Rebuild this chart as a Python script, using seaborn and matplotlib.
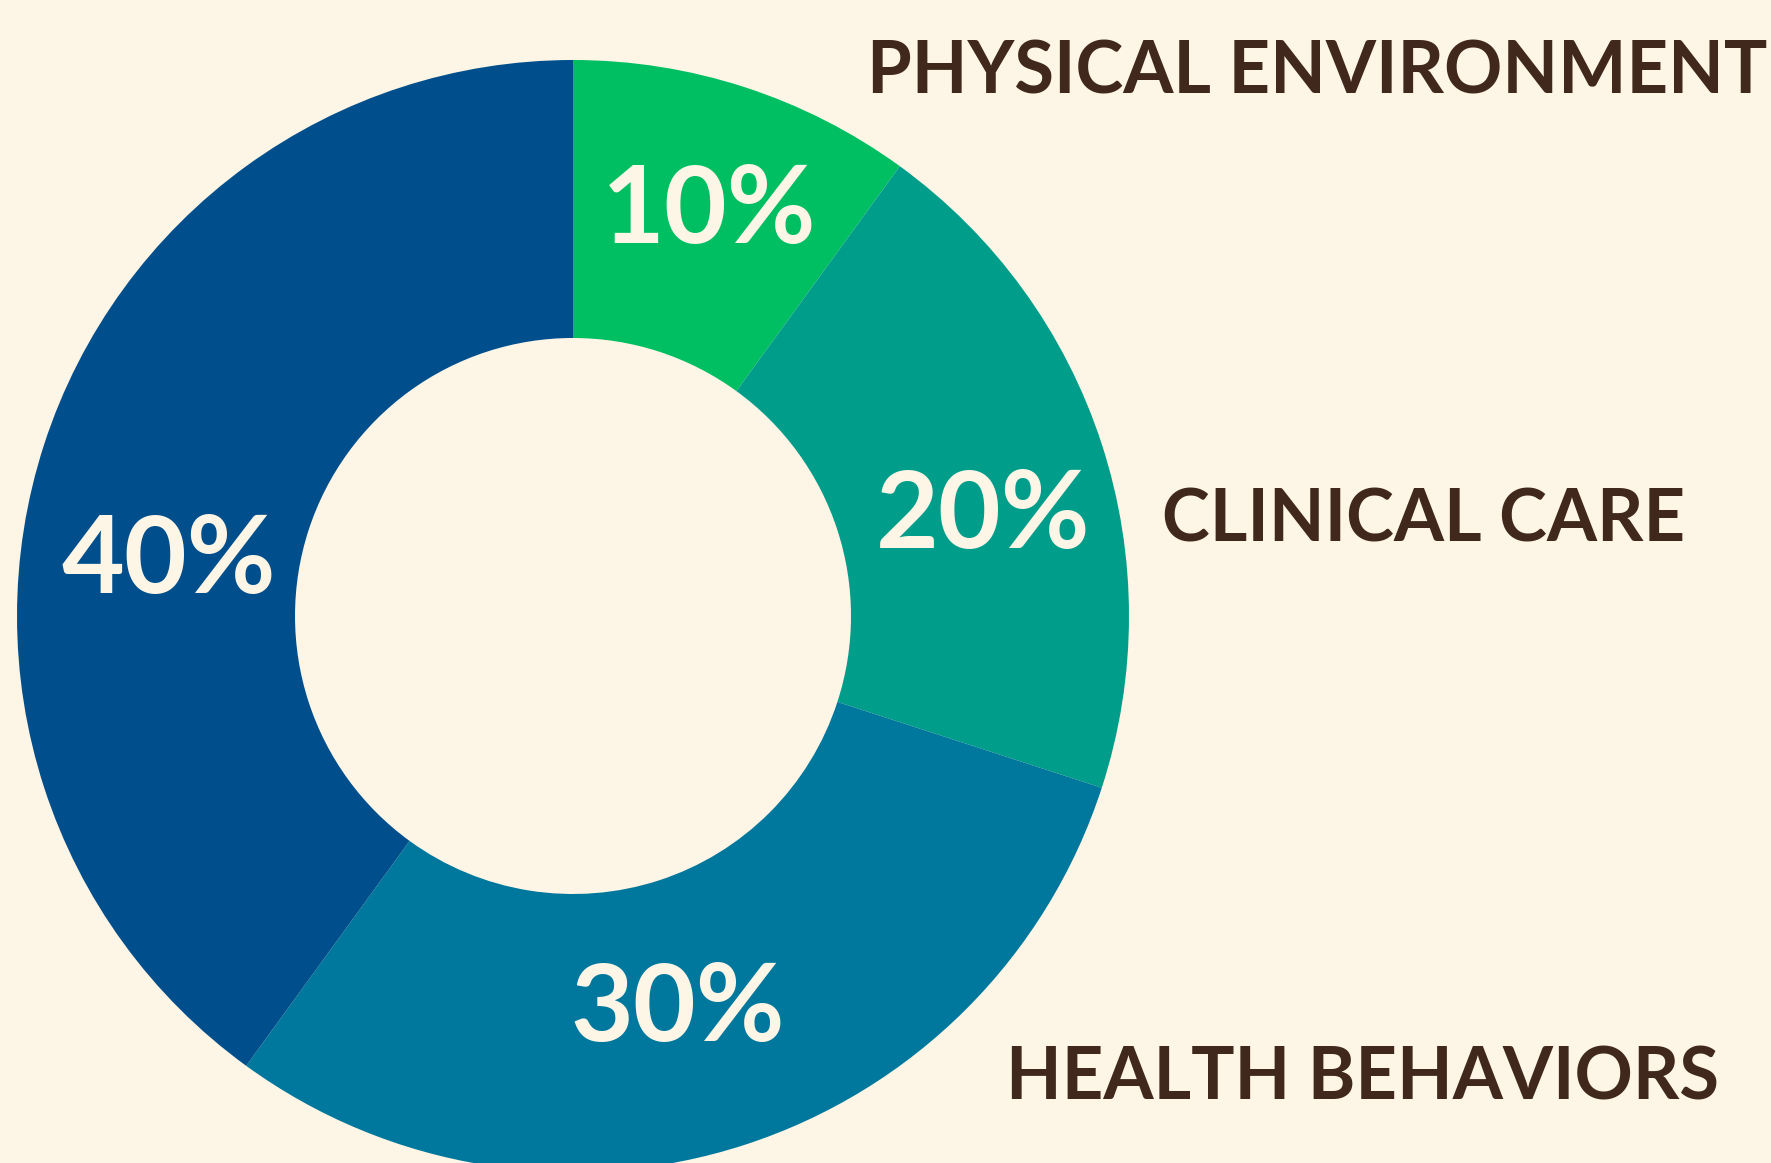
import matplotlib
matplotlib.use("Agg")
import matplotlib.pyplot as plt
import seaborn as sns

# data
categories = ["Physical Environment", "Clinical Care", "Health Behaviors", "Socioeconomic Factors"]
shares = [10, 20, 30, 40]
side_labels = ["PHYSICAL ENVIRONMENT", "CLINICAL CARE", "HEALTH BEHAVIORS"]
colors = ["#00BF63", "#009E8A", "#00779C", "#004F8C"]

bg = "#FDF5E6"
brown = "#40281C"
cream = "#FDF5E6"

sns.set_theme(style="white")
plt.rcParams["font.family"] = ["Lato", "DejaVu Sans"]

fig = plt.figure(figsize=(17.71, 11.63), dpi=100, facecolor=bg)
ax = fig.add_axes([0, 0, 1, 1])
ax.set_facecolor(bg)

wedges, texts, autotexts = ax.pie(
    shares,
    colors=colors,
    startangle=90,
    counterclock=False,
    radius=1,
    autopct="%d%%",
    pctdistance=0.76,
    wedgeprops=dict(width=0.5, linewidth=0),
    textprops=dict(color=cream, fontsize=78, fontweight="bold"),
)

# place donut: center at (573, 616) px from top-left, radius 556 px
cx, cy, r = 573, 616, 556
ax.set_xlim(-cx / r, (1771 - cx) / r)
ax.set_ylim(-(1163 - cy) / r, cy / r)
ax.set_aspect("auto")
ax.axis("off")

# nudge percentage labels to where they sit in the original (px, baseline)
pct_spots = [(709, 243), (983, 548), (678, 1041), (169, 593)]
for t, (px, py) in zip(autotexts, pct_spots):
    t.set_position(((px - cx) / r, (cy - py) / r))
    t.set_va("baseline")

# side labels
label_pos = [(0.998, 0.920, "right"), (0.656, 0.534, "left"), (0.568, 0.055, "left")]
for (x, y, ha), txt in zip(label_pos, side_labels):
    fig.text(x, y, txt, ha=ha, va="baseline", color=brown,
             fontsize=52, fontweight="bold")

fig.savefig("out.png", dpi=100, facecolor=bg)
